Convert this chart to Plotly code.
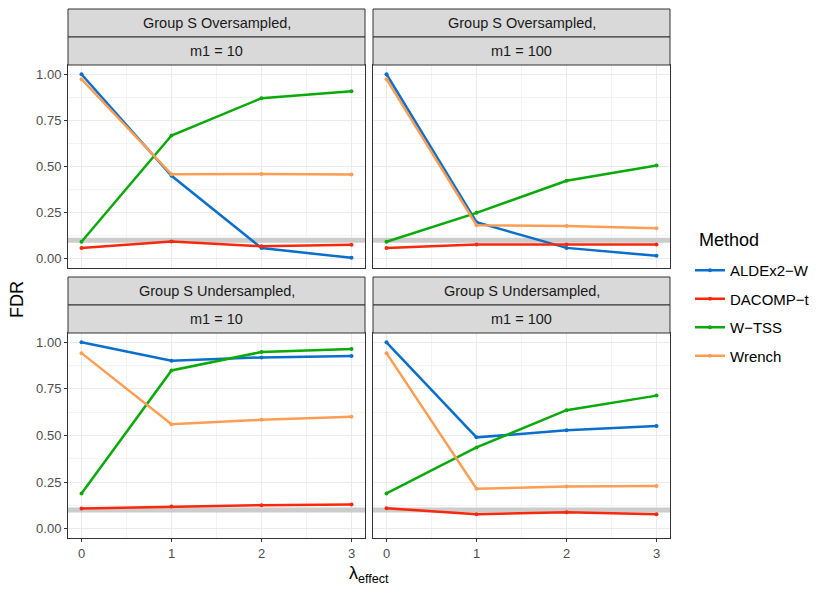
import plotly.graph_objects as go

# browser page has an 8px body margin; figure sized to fit inside the window
OFF = 8
W, H = 830 - 2 * OFF, 593 - 2 * OFF

lambdas = [0, 1, 2, 3]
methods = ["ALDEx2−W", "DACOMP−t", "W−TSS", "Wrench"]
colors = ["#0A6FCC", "#F8280C", "#0AAA0A", "#FF9E52"]

# FDR values per panel (rows: methods in order above)
over_m10 = [
    [1.00, 0.450, 0.058, 0.005],
    [0.059, 0.094, 0.068, 0.076],
    [0.092, 0.668, 0.870, 0.908],
    [0.973, 0.458, 0.459, 0.456],
]
over_m100 = [
    [1.00, 0.198, 0.059, 0.016],
    [0.059, 0.077, 0.077, 0.077],
    [0.092, 0.249, 0.423, 0.505],
    [0.973, 0.182, 0.177, 0.166],
]
under_m10 = [
    [1.00, 0.901, 0.919, 0.926],
    [0.108, 0.119, 0.126, 0.130],
    [0.189, 0.849, 0.948, 0.964],
    [0.942, 0.560, 0.584, 0.600],
]
under_m100 = [
    [1.00, 0.490, 0.528, 0.551],
    [0.110, 0.077, 0.088, 0.077],
    [0.189, 0.436, 0.636, 0.714],
    [0.942, 0.214, 0.227, 0.229],
]
fdr_target = 0.1

panel_titles = [
    ("Group S Oversampled,", "m1 = 10"),
    ("Group S Oversampled,", "m1 = 100"),
    ("Group S Undersampled,", "m1 = 10"),
    ("Group S Undersampled,", "m1 = 100"),
]
panel_data = [over_m10, over_m100, under_m10, under_m100]

# layout geometry in window pixels
cols_px = [(68, 365), (373, 670)]
rows_px = [(65, 268), (333, 538)]  # plot area (top, bottom)
strip_h = 28

def px_x(p):
    return (p - OFF) / W

def px_y(p):
    return 1 - (p - OFF) / H

fig = go.Figure()
shapes = []
annotations = []
font_family = "Liberation Sans, Arial, sans-serif"

for i in range(4):
    r, c = divmod(i, 2)
    ax = "" if i == 0 else str(i + 1)
    xa, ya = "x" + ax, "y" + ax
    x0p, x1p = cols_px[c]
    t, b = rows_px[r]
    fig.update_layout(**{
        "xaxis" + ax: dict(
            domain=[px_x(x0p), px_x(x1p)], range=[-0.15, 3.15],
            tickvals=lambdas, ticktext=[str(v) for v in lambdas],
            showticklabels=(r == 1),
            ticks="outside" if r == 1 else "", ticklen=3, tickcolor="#333333", tickwidth=1,
            tickfont=dict(size=13, color="#4D4D4D", family=font_family),
            showgrid=True, gridcolor="#EBEBEB", gridwidth=1.1,
            minor=dict(tickvals=[0.5, 1.5, 2.5], showgrid=True,
                       gridcolor="#F3F3F3", gridwidth=0.6, ticks=""),
            showline=True, mirror=True, linecolor="#333333", linewidth=1,
            zeroline=False, anchor=ya, fixedrange=True,
        ),
        "yaxis" + ax: dict(
            domain=[px_y(b), px_y(t)], range=[-0.05, 1.05],
            tickvals=[0, 0.25, 0.5, 0.75, 1.0], tickformat=".2f",
            showticklabels=(c == 0),
            ticks="outside" if c == 0 else "", ticklen=3, tickcolor="#333333", tickwidth=1,
            tickfont=dict(size=13, color="#4D4D4D", family=font_family),
            showgrid=True, gridcolor="#EBEBEB", gridwidth=1.1,
            minor=dict(tickvals=[0.125, 0.375, 0.625, 0.875], showgrid=True,
                       gridcolor="#F3F3F3", gridwidth=0.6, ticks=""),
            showline=True, mirror=True, linecolor="#333333", linewidth=1,
            zeroline=False, anchor=xa, fixedrange=True,
        ),
    })
    # target FDR reference line (above grid, below data)
    shapes.append(dict(type="line", xref=xa, yref=ya,
                       x0=-0.15, x1=3.15, y0=fdr_target, y1=fdr_target,
                       line=dict(color="#CCCCCC", width=5), layer="between"))
    # strips
    for k, txt in enumerate(panel_titles[i]):
        st = t - strip_h * (2 - k)
        sb = st + strip_h
        shapes.append(dict(type="rect", xref="paper", yref="paper",
                           x0=px_x(x0p), x1=px_x(x1p), y0=px_y(sb), y1=px_y(st),
                           fillcolor="#D9D9D9", line=dict(color="#333333", width=1),
                           layer="above"))
        annotations.append(dict(text=txt, xref="paper", yref="paper",
                                x=px_x((x0p + x1p) / 2), y=px_y((st + sb) / 2),
                                showarrow=False, xanchor="center", yanchor="middle",
                                font=dict(size=14.5, color="#1A1A1A", family=font_family)))
    for m, name in enumerate(methods):
        fig.add_trace(go.Scatter(
            x=lambdas, y=panel_data[i][m], mode="lines+markers", name=name,
            line=dict(color=colors[m], width=2.5),
            marker=dict(color=colors[m], size=4),
            xaxis=xa, yaxis=ya, legendgroup=name, showlegend=(i == 0),
        ))

annotations.append(dict(text="FDR", xref="paper", yref="paper",
                        x=px_x(17), y=px_y(300), showarrow=False, textangle=-90,
                        xanchor="center", yanchor="middle",
                        font=dict(size=18, color="#000000", family=font_family)))
annotations.append(dict(text="λ<sub>effect</sub>", xref="paper", yref="paper",
                        x=px_x(369), y=px_y(574), showarrow=False,
                        xanchor="center", yanchor="middle",
                        font=dict(size=18, color="#000000", family=font_family)))
annotations.append(dict(text="Method", xref="paper", yref="paper",
                        x=px_x(697), y=px_y(240), showarrow=False,
                        xanchor="left", yanchor="middle",
                        font=dict(size=18, color="#000000", family=font_family)))

fig.update_layout(
    width=W, height=H, margin=dict(l=0, r=0, t=0, b=0),
    paper_bgcolor="white", plot_bgcolor="white",
    shapes=shapes, annotations=annotations,
    legend=dict(x=px_x(690), y=px_y(254), xanchor="left", yanchor="top",
                font=dict(size=15, color="#000000", family=font_family),
                tracegroupgap=6, itemwidth=30, bgcolor="rgba(0,0,0,0)"),
    font=dict(family=font_family),
)

fig.write_html("out.html")
